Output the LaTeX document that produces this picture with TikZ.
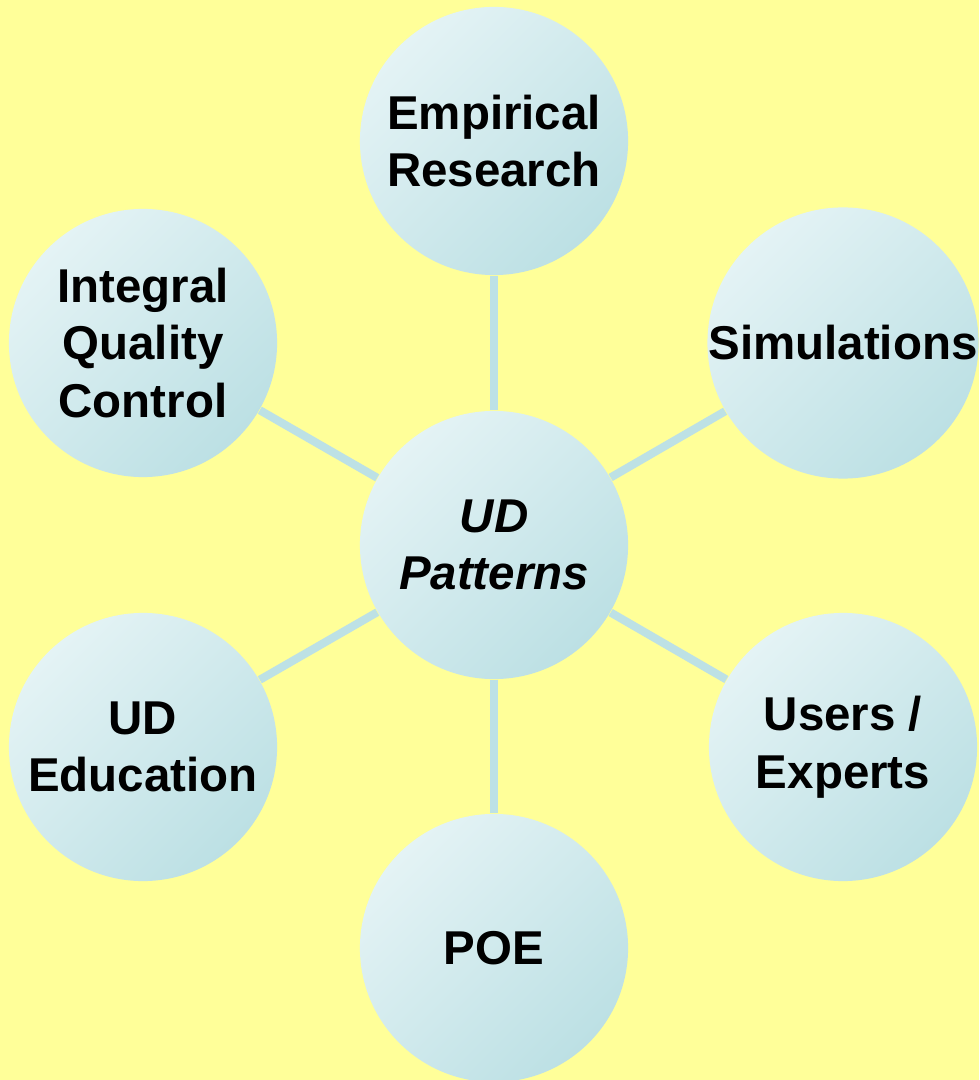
\documentclass[tikz,border=0pt]{standalone}
\usepackage{fontspec}
\setmainfont{Liberation Sans}
\usetikzlibrary{backgrounds}
\pgfdeclarelayer{paper}
\pgfsetlayers{paper,background,main}
\definecolor{bgyellow}{HTML}{FFFF99}
\definecolor{balllight}{HTML}{E4F3F5}
\definecolor{balldark}{HTML}{BCE0E4}
\definecolor{spoke}{HTML}{BDE1E5}
\tikzset{
  ball/.style={circle, minimum size=2.68cm, inner sep=0pt, align=center,
    top color=balllight, bottom color=balldark, shading angle=45,
    font=\fontsize{13.5}{16.4}\selectfont\bfseries},
  spokeline/.style={spoke, line width=2.3pt}
}
\begin{document}
\begin{tikzpicture}[x=0.01cm, y=-0.01cm]
\begin{pgfonlayer}{paper}
\fill[bgyellow] (0,0) rectangle (979,1080);
\end{pgfonlayer}
\useasboundingbox (0,0) rectangle (979,1080);
\node[ball] (pat) at (494,545) {\itshape UD\\\itshape Patterns};
\node[ball] (emp) at (494,141) {Empirical\\Research};
\node[ball] (sim) at (843,343) {Simulations};
\node[ball] (usr) at (843,747) {Users /\\Experts};
\node[ball] (poe) at (494,948) {POE};
\node[ball] (edu) at (143,747) {UD\\Education};
\node[ball] (iqc) at (143,343) {Integral\\Quality\\Control};
\begin{pgfonlayer}{background}
\foreach \o in {emp,sim,usr,poe,edu,iqc} \draw[spokeline] (pat)--(\o);
\end{pgfonlayer}
\end{tikzpicture}
\end{document}
